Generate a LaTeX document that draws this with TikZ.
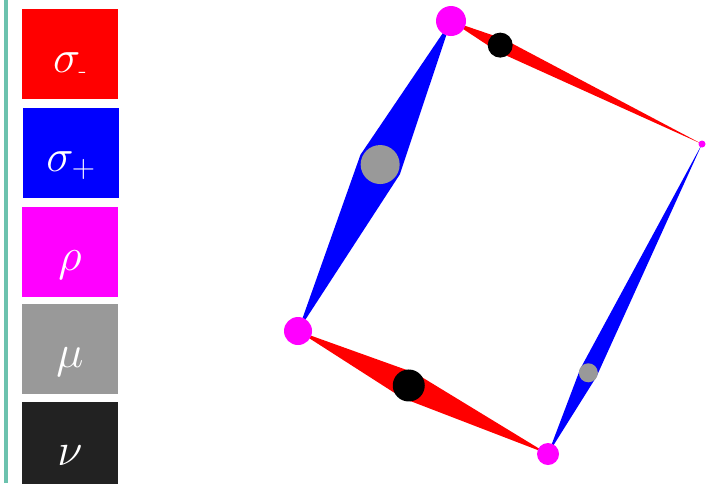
\RequirePackage{fix-cm}
\documentclass[tikz,border=0pt]{standalone}
\usetikzlibrary{calc}
\definecolor{teal1}{RGB}{108,194,174}
\definecolor{pinkc}{RGB}{255,0,255}
\definecolor{grayc}{RGB}{153,153,153}
\definecolor{darkc}{RGB}{34,34,34}
\newcommand{\subminus}{\hbox{\fontsize{26}{26}\selectfont -}}
\tikzset{
  legbox/.style={draw=none, minimum width=96pt, minimum height=90pt, inner sep=0pt, text=white, text height=38pt, text depth=2pt, font=\fontsize{46}{50}\selectfont},
  dot/.style={circle, draw=none, inner sep=0pt, minimum size=#1},
  pinkdot/.style={dot=#1, fill=pinkc},
  graydot/.style={dot=#1, fill=grayc},
  blackdot/.style={dot=#1, fill=black},
}
\begin{document}
\begin{tikzpicture}[x=1pt,y=-1pt]
\useasboundingbox (0,0) rectangle (711,483);
\fill[white] (0,0) rectangle (711,483);
% teal bar
\fill[teal1] (4,0) rectangle (8,483);
% legend
\node[legbox, fill=red] (l1) at (70,54) {$\sigma_{\subminus}$};
\node[legbox, fill=blue] (l2) at (71,153) {$\sigma_+$};
\node[legbox, fill=pinkc] (l3) at (70,252) {$\rho$};
\node[legbox, fill=grayc] (l4) at (70,349) {$\mu$};
\node[legbox, fill=darkc] (l5) at (70,447) {$\nu$};
% vertices
\coordinate (T) at (451,21);
\coordinate (R) at (702,144);
\coordinate (L) at (298,331);
\coordinate (B) at (548,454);
% kite midpoints
\coordinate (mTR) at ($(T)!0.196!(R)$);
\coordinate (mTL) at ($(T)!0.463!(L)$);
\coordinate (mLB) at ($(L)!0.443!(B)$);
\coordinate (mRB) at ($(R)!0.738!(B)$);
% kites
\fill[red] (T) -- ($(mTR)!7pt!90:(R)$) -- (R) -- ($(mTR)!7pt!-90:(R)$) -- cycle;
\fill[blue] (T) -- ($(mTL)!22pt!90:(L)$) -- (L) -- ($(mTL)!22pt!-90:(L)$) -- cycle;
\fill[red] (L) -- ($(mLB)!14pt!90:(B)$) -- (B) -- ($(mLB)!14pt!-90:(B)$) -- cycle;
\fill[blue] (R) -- ($(mRB)!9pt!90:(B)$) -- (B) -- ($(mRB)!9pt!-90:(B)$) -- cycle;
% inner dots
\node[blackdot=25pt] (nTR) at (mTR) {};
\node[graydot=39pt] (gTL) at (mTL) {};
\node[blackdot=32pt] (nLB) at (mLB) {};
\node[graydot=19pt] (gRB) at (mRB) {};
% vertex dots
\node[pinkdot=30pt] (t) at (T) {};
\node[pinkdot=7pt] (r) at (R) {};
\node[pinkdot=28pt] (l) at (L) {};
\node[pinkdot=22pt] (b) at (B) {};
\end{tikzpicture}
\end{document}
